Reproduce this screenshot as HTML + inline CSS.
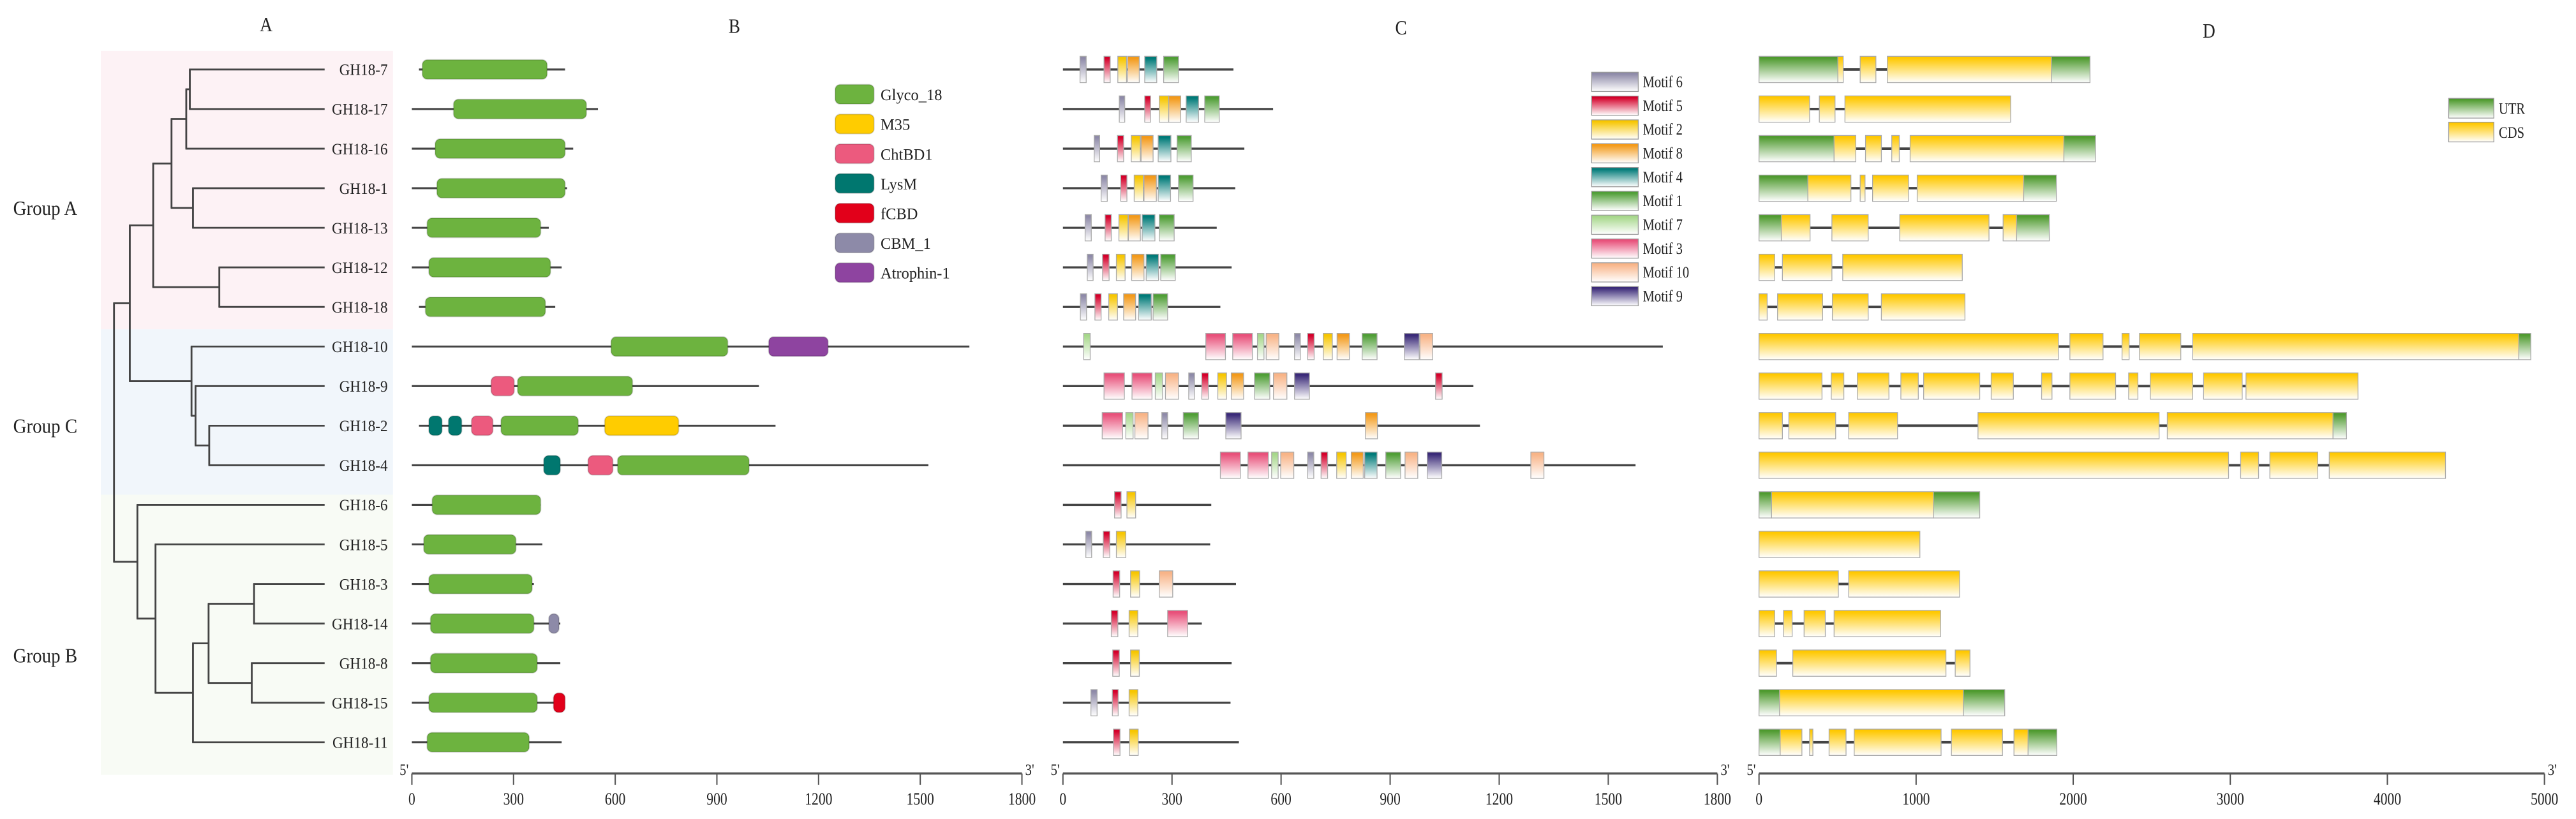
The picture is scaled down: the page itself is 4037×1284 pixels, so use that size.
<!DOCTYPE html>
<html><head><meta charset="utf-8"><style>
html,body{margin:0;padding:0;background:#fff;}
svg{display:block;}
text{font-family:"Liberation Serif",serif;fill:#222;}
</style></head><body>
<svg id="fig" xmlns="http://www.w3.org/2000/svg" width="4037" height="1284" viewBox="0 0 1568 498.7">
<defs id="defs"></defs>
<rect x="61.4" y="31" width="177.8" height="169.5" fill="#fdf2f5"/>
<rect x="61.4" y="200.5" width="177.8" height="100.7" fill="#f1f6fb"/>
<rect x="61.4" y="301.2" width="177.8" height="170.6" fill="#f8fbf5"/>
<g id="layer"></g>
</svg>
<script>
// ---------- data ----------
const genes = ["GH18-7","GH18-17","GH18-16","GH18-1","GH18-13","GH18-12","GH18-18","GH18-10","GH18-9","GH18-2","GH18-4","GH18-6","GH18-5","GH18-3","GH18-14","GH18-8","GH18-15","GH18-11"];
const groupNames = ["Group A","Group C","Group B"];
const groupRows = [3.5, 9, 14.8];
// tree: internal nodes {d: depth, c: children}, leaves are gene indices
const tree = {d:0,c:[
  {d:0.075,c:[
    {d:0.186,c:[
      {d:0.273,c:[{d:0.343,c:[{d:0.36,c:[0,1]},2]},{d:0.375,c:[3,4]}]},
      {d:0.5,c:[5,6]}]},
    {d:0.368,c:[7,{d:0.387,c:[8,{d:0.452,c:[9,10]}]}]}]},
  {d:0.111,c:[11,{d:0.197,c:[12,{d:0.375,c:[{d:0.449,c:[{d:0.665,c:[13,14]},{d:0.654,c:[15,16]}]},17]}]}]}
]};
// Panel B: protein domains
const domainTypes = ["Glyco_18","M35","ChtBD1","LysM","fCBD","CBM_1","Atrophin-1"];
const domainColors = ["#6db33f","#ffcc00","#ec5a7e","#00776f","#e2001a","#8d8aa8","#8e44a0"];
const proteinStarts = [21,0,0,0,0,0,21,0,0,21,0,0,0,0,0,0,0,0];
const proteinLengths = [452,549,476,458,404,442,423,1645,1024,1073,1524,380,385,360,438,438,452,442];
const proteinDomains = [
 [[0,31,399]],[[0,123,515]],[[0,69,452]],[[0,74,452]],[[0,45,380]],[[0,50,409]],[[0,40,394]],
 [[0,588,932],[6,1053,1228]],
 [[2,234,302],[0,312,651]],
 [[3,50,89],[3,108,147],[2,176,239],[0,263,491],[1,569,787]],
 [[3,389,438],[2,520,593],[0,607,995]],
 [[0,60,380]],[[0,35,307]],[[0,50,355]],[[0,55,360],[5,404,434]],[[0,55,370]],[[0,50,370],[4,418,452]],[[0,45,346]]
];
const proteinTicks = [0,300,600,900,1200,1500,1800];
// Panel C: motifs
const motifOrder = [6,5,2,8,4,1,7,3,10,9];
const motifColors = {1:"#4f9e36",2:"#f7c600",3:"#e8507a",4:"#007a78",5:"#d4002a",6:"#8e8aa8",7:"#a6d78a",8:"#f39a1a",9:"#3a2a78",10:"#f8b487"};
const motifLengths = [469,578,499,474,423,464,433,1650,1129,1147,1575,408,405,476,382,464,461,484];
const motifHits = [
 [[6,47,64],[5,113,130],[2,151,175],[8,178,210],[4,225,258],[1,277,318]],
 [[6,155,170],[5,225,241],[2,265,291],[8,291,324],[4,339,373],[1,390,430]],
 [[6,86,101],[5,150,167],[2,188,213],[8,215,248],[4,262,297],[1,314,353]],
 [[6,105,122],[5,159,176],[2,196,221],[8,223,257],[4,262,296],[1,318,358]],
 [[6,61,78],[5,116,133],[2,154,179],[8,180,213],[4,218,253],[1,265,306]],
 [[6,67,83],[5,109,127],[2,147,171],[8,189,223],[4,229,263],[1,269,309]],
 [[6,48,65],[5,88,105],[2,126,150],[8,167,200],[4,208,243],[1,248,288]],
 [[7,57,75],[3,393,447],[3,467,521],[7,535,553],[10,559,594],[6,637,653],[5,673,691],[2,716,741],[8,754,788],[1,823,864],[9,939,980],[10,982,1017]],
 [[3,113,169],[3,190,245],[7,254,274],[10,282,318],[6,346,362],[5,382,400],[2,426,450],[8,463,497],[1,527,569],[10,579,616],[9,637,678],[5,1025,1043]],
 [[3,108,164],[7,173,193],[10,198,234],[6,272,288],[1,331,373],[9,448,490],[8,832,865]],
 [[3,433,488],[3,509,565],[7,574,592],[10,599,635],[6,673,690],[5,710,728],[2,753,779],[8,793,826],[4,830,864],[1,888,929],[10,941,976],[9,1002,1042],[10,1287,1323]],
 [[5,142,160],[2,176,200]],
 [[6,63,79],[5,111,129],[2,147,173]],
 [[5,138,156],[2,186,211],[10,265,302]],
 [[5,133,151],[2,182,206],[3,288,343]],
 [[5,137,155],[2,186,210]],
 [[6,77,94],[5,136,152],[2,182,206]],
 [[5,139,157],[2,183,207]]
];
const motifTicks = [0,300,600,900,1200,1500,1800];
// Panel D: gene structure (0 = UTR, 1 = CDS)
const featureNames = ["UTR","CDS"];
const featureColors = ["#4e9a2e","#ffc800"];
const geneLengths = [2107,1602,2142,1893,1848,1294,1311,4913,3813,3740,4370,1405,1024,1277,1156,1343,1564,1896];
const geneFeatures = [
 [[0,0,502],[1,502,536],[1,644,744],[1,817,1862],[0,1862,2107]],
 [[1,0,322],[1,384,484],[1,547,1602]],
 [[0,0,478],[1,478,616],[1,678,779],[1,845,893],[1,962,1941],[0,1941,2142]],
 [[0,0,311],[1,311,585],[1,644,675],[1,723,952],[1,1007,1685],[0,1685,1893]],
 [[0,0,142],[1,142,325],[1,464,695],[1,896,1464],[1,1554,1640],[0,1640,1848]],
 [[1,0,100],[1,149,464],[1,533,1294]],
 [[1,0,52],[1,118,405],[1,467,695],[1,779,1311]],
 [[1,0,1906],[1,1979,2190],[1,2311,2356],[1,2422,2685],[1,2761,4837],[0,4837,4913]],
 [[1,0,401],[1,460,540],[1,626,827],[1,903,1014],[1,1048,1405],[1,1478,1619],[1,1799,1865],[1,1979,2270],[1,2353,2412],[1,2491,2761],[1,2830,3076],[1,3100,3813]],
 [[1,0,149],[1,190,488],[1,571,882],[1,1394,2547],[1,2599,3654],[0,3654,3740]],
 [[1,0,2989],[1,3066,3180],[1,3252,3557],[1,3630,4370]],
 [[0,0,80],[1,80,1111],[0,1111,1405]],
 [[1,0,1024]],
 [[1,0,505],[1,571,1277]],
 [[1,0,100],[1,156,211],[1,287,422],[1,478,1156]],
 [[1,0,111],[1,215,1190],[1,1249,1343]],
 [[0,0,131],[1,131,1301],[0,1301,1564]],
 [[0,0,135],[1,135,273],[1,322,343],[1,446,554],[1,606,1159],[1,1225,1550],[1,1623,1713],[0,1713,1896]]
];
const geneTicks = [0,1000,2000,3000,4000,5000];
const panelTitles = ["A","B","C","D"];

// ---------- scales ----------
const rowY = i => 42.3 + i*24.1;
const treeX = d => 69.4 + d*128.2;
const xB = v => 250.7 + v*0.2063;
const xC = v => 647 + v*0.2213;
const xD = v => 1070.7 + v*0.09562;
const AXIS_Y = 471;

const NS="http://www.w3.org/2000/svg";
const layer=document.getElementById('layer');
const defs=document.getElementById('defs');
function mk(tag,attrs,parent){const e=document.createElementNS(NS,tag);for(const k in attrs)e.setAttribute(k,attrs[k]);(parent||layer).appendChild(e);return e;}
function txt(x,y,s,size,anchor,sx,parent){
  const t=mk('text',{transform:`translate(${x},${y}) scale(${sx},1)`,'font-size':size,'text-anchor':anchor||'start'},parent);
  t.textContent=s;return t;}
function grad(id,color,solidStop){
  const g=mk('linearGradient',{id:id,x1:0,y1:0,x2:0,y2:1},defs);
  mk('stop',{offset:0,'stop-color':color},g);
  mk('stop',{offset:solidStop,'stop-color':color},g);
  mk('stop',{offset:1,'stop-color':'#ffffff'},g);
}
Object.keys(motifColors).forEach(k=>grad('mg'+k,motifColors[k],0.08));
featureColors.forEach((c,i)=>grad('fg'+i,c,0.06));

// titles
const titleX=[162,447,852.8,1344.6], titleY=[19,20,21,23];
panelTitles.forEach((s,i)=>{
  const t=txt(titleX[i],titleY[i],s,12.5,'middle',0.85);
  
  
});

// ---------- Panel A: tree ----------
const gTree=mk('g',{});


function layout(n){
  if(typeof n==='number') return {y:rowY(n),x:treeX(1)};
  const kids=n.c.map(layout);
  const x=treeX(n.d);
  const y=(kids[0].y+kids[kids.length-1].y)/2;
  const v=mk('line',{x1:x,x2:x,y1:kids[0].y,y2:kids[kids.length-1].y,stroke:'#444','stroke-width':1.1},gTree);
  
  
  kids.forEach(k=>{
    const h=mk('line',{x1:x-0.5,x2:k.x,y1:k.y,y2:k.y,stroke:'#444','stroke-width':1.1},gTree);
    
    
  });
  return {x:x,y:y};
}
layout(tree);
genes.forEach((g,i)=>{
  const t=txt(236,rowY(i)+3.4,g,10,'end',0.9);
  
  
});
groupNames.forEach((g,i)=>{
  const t=txt(8,42.3+groupRows[i]*24.1+4.3,g,12.5,'start',0.9);
  
  
});

// ---------- axes ----------
function axis(scale,ticks,name){
  const g=mk('g',{});
  
  
  const x0=scale(ticks[0]), x1=scale(ticks[ticks.length-1]);
  mk('line',{x1:x0,x2:x1,y1:AXIS_Y,y2:AXIS_Y,stroke:'#555','stroke-width':1.3},g);
  ticks.forEach(v=>{
    const tk=mk('line',{x1:scale(v),x2:scale(v),y1:AXIS_Y,y2:AXIS_Y+7,stroke:'#555','stroke-width':0.8},g);
    
    
    const lb=txt(scale(v),AXIS_Y+19,String(v),10.5,'middle',0.8,g);
    
    
  });
  const a=txt(x0-2,AXIS_Y+1,"5'",10,'end',0.8,g);
  
  
  const b=txt(x1+2,AXIS_Y+1,"3'",10,'start',0.8,g);
  
  
}
axis(xB,proteinTicks,'protein-axis');
axis(xC,motifTicks,'motif-axis');
axis(xD,geneTicks,'gene-axis');

// ---------- Panel B: domains ----------
const gB=mk('g',{});


genes.forEach((g,i)=>{
  const y=rowY(i);
  const l=mk('line',{x1:xB(proteinStarts[i]),x2:xB(proteinLengths[i]),y1:y,y2:y,stroke:'#444','stroke-width':1.2},gB);
  
  
  proteinDomains[i].forEach(d=>{
    const c=domainColors[d[0]];
    const r=mk('rect',{x:xB(d[1]),y:y-5.9,width:xB(d[2])-xB(d[1]),height:11.8,rx:3,ry:3,fill:c,stroke:'rgba(0,0,0,0.15)','stroke-width':0.8},gB);
    
    
  });
});
domainTypes.forEach((n,i)=>{
  const y=51.5+i*18.1;
  const r=mk('rect',{x:508.4,y:y,width:23.6,height:11.8,rx:3,ry:3,fill:domainColors[i],stroke:'rgba(0,0,0,0.15)','stroke-width':0.8},gB);
  
  
  const t=txt(536,y+9.5,n,10,'start',0.95,gB);
  
  
});

// ---------- Panel C: motifs ----------
const gC=mk('g',{});


genes.forEach((g,i)=>{
  const y=rowY(i);
  const l=mk('line',{x1:xC(0),x2:xC(motifLengths[i]),y1:y,y2:y,stroke:'#444','stroke-width':1.3},gC);
  
  
  motifHits[i].forEach(m=>{
    const r=mk('rect',{x:xC(m[1]),y:y-8,width:xC(m[2])-xC(m[1]),height:16,fill:`url(#mg${m[0]})`,stroke:'#aaa','stroke-width':0.5},gC);
    
    
  });
});
motifOrder.forEach((m,i)=>{
  const y=44+i*14.5;
  const r=mk('rect',{x:968.8,y:y,width:28.4,height:11.7,fill:`url(#mg${m})`,stroke:'#999','stroke-width':0.5},gC);
  
  
  const t=txt(1000,y+9,'Motif '+m,10,'start',0.8,gC);
  
  
});

// ---------- Panel D: gene structure ----------
const gD=mk('g',{});


genes.forEach((g,i)=>{
  const y=rowY(i);
  const l=mk('line',{x1:xD(0),x2:xD(geneLengths[i]),y1:y,y2:y,stroke:'#444','stroke-width':1.5},gD);
  
  
  geneFeatures[i].forEach(f=>{
    const r=mk('rect',{x:xD(f[1]),y:y-8,width:xD(f[2])-xD(f[1]),height:16,fill:`url(#fg${f[0]})`,stroke:'#aaa','stroke-width':0.5},gD);
    
    
  });
});
featureNames.forEach((n,i)=>{
  const y=59.9+i*14.5;
  const r=mk('rect',{x:1490.5,y:y,width:27.5,height:12,fill:`url(#fg${i})`,stroke:'#999','stroke-width':0.5},gD);
  
  
  const t=txt(1521,y+9.5,n,10,'start',0.8,gD);
  
  
});
</script>
</body></html>
